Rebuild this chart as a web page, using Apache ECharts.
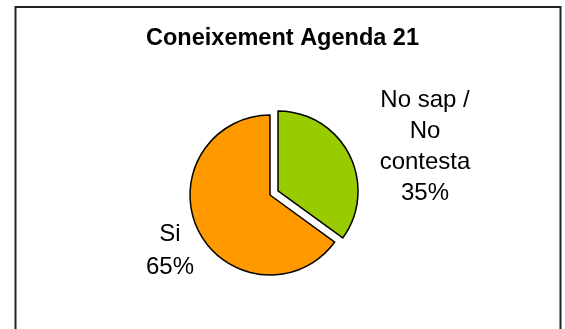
<!DOCTYPE html>
<html>
<head>
<meta charset="utf-8">
<script src="https://cdn.jsdelivr.net/npm/echarts@6/dist/echarts.min.js"></script>
<style>
html,body{margin:0;padding:0;background:#fff;}
#chart{width:565px;height:329px;}
</style>
</head>
<body>
<div id="chart"></div>
<script>
const categories = ['No sap /\nNo\ncontesta', 'Si'];
const values = [35, 65];
const colors = ['#99CC00', '#FF9900'];
const labelPos = [[425, 147], [170, 251]];
const labelLineHeights = [31, 33];

const chart = echarts.init(document.getElementById('chart'), null, {renderer: 'canvas'});
chart.setOption({
  backgroundColor: '#ffffff',
  animation: false,
  title: {
    text: 'Coneixement Agenda 21',
    left: 'center', top: 22,
    textStyle: {fontFamily: 'Liberation Sans', fontWeight: 'bold', fontSize: 23.5, color: '#000'}
  },
  graphic: [{
    type: 'rect', shape: {x: 15.5, y: 7, width: 545, height: 340},
    style: {fill: 'none', stroke: '#222', lineWidth: 2}, silent: true, z: 0
  }],
  series: [{
    type: 'pie',
    center: [270, 195],
    radius: 80,
    startAngle: 90,
    clockwise: true,
    selectedMode: 'single',
    selectedOffset: 9,
    data: categories.map((c, i) => ({
      name: c, value: values[i], selected: i === 0,
      itemStyle: {color: colors[i]}
    })),
    itemStyle: {borderColor: '#000', borderWidth: 1.5},
    label: {show: false},
    labelLine: {show: false},
    emphasis: {disabled: true}
  }, {
    type: 'pie',
    center: [270, 195],
    radius: 80,
    startAngle: 90,
    clockwise: true,
    silent: true,
    data: categories.map((c, i) => ({
      name: c, value: values[i],
      label: {lineHeight: labelLineHeights[i]}
    })),
    itemStyle: {color: 'transparent', borderWidth: 0},
    label: {
      show: true, position: 'inside',
      formatter: p => p.name + '\n' + p.percent.toFixed(0) + '%',
      fontFamily: 'Liberation Sans', fontSize: 24, color: '#000', align: 'center'
    },
    labelLine: {show: false},
    labelLayout: p => ({
      x: labelPos[p.dataIndex][0], y: labelPos[p.dataIndex][1],
      align: 'center', verticalAlign: 'middle'
    }),
    emphasis: {disabled: true}
  }]
});
</script>
</body>
</html>
